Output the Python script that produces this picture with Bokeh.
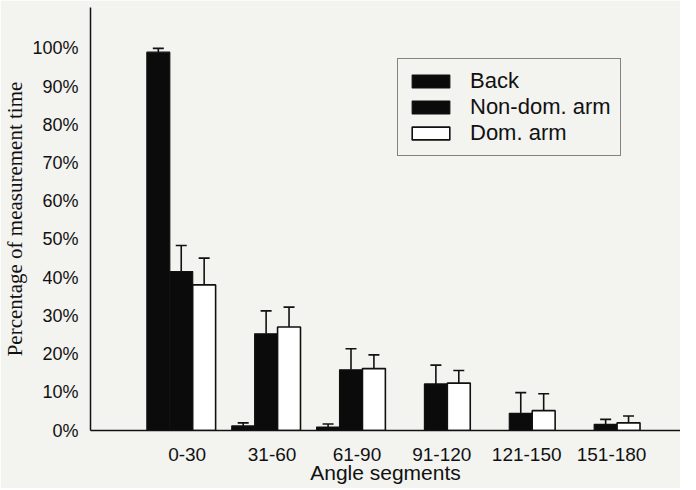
from bokeh.plotting import figure
from bokeh.models import (ColumnDataSource, Range1d, FixedTicker, Whisker, TeeHead,
                          Legend, LegendItem)
from bokeh.transform import dodge
from bokeh.embed import file_html
from bokeh.resources import INLINE

# ---- data ----
categories = ["0-30", "31-60", "61-90", "91-120", "121-150", "151-180"]
back = [99.0, 1.2, 0.9, 0.0, 0.0, 0.0]
back_err = [1.0, 0.8, 0.8, 0.0, 0.0, 0.0]
nondom = [41.6, 25.3, 15.9, 12.2, 4.5, 1.6]
nondom_err = [6.8, 6.0, 5.5, 4.9, 5.4, 1.3]
dom = [38.1, 27.1, 16.2, 12.4, 5.2, 2.0]
dom_err = [7.0, 5.2, 3.6, 3.3, 4.4, 1.8]
y_ticks = [0, 10, 20, 30, 40, 50, 60, 70, 80, 90, 100]
series_names = ["Back", "Non-dom. arm", "Dom. arm"]

BG = "#f3f3f0"
INK = "#111111"
SANS = "Liberation Sans"
SERIF = "Liberation Serif"

idx = list(range(len(categories)))
src = ColumnDataSource(dict(
    x=idx, back=back, nondom=nondom, dom=dom,
    back_hi=[v + e for v, e in zip(back, back_err)],
    nondom_hi=[v + e for v, e in zip(nondom, nondom_err)],
    dom_hi=[v + e for v, e in zip(dom, dom_err)],
))
# whiskers only where the bar exists
bk = [i for i in idx if back[i] > 0]
back_w = ColumnDataSource(dict(x=bk, lo=[back[i] for i in bk],
                               hi=[back[i] + back_err[i] for i in bk]))

p = figure(width=680, height=488, output_backend="svg", toolbar_location=None,
           x_range=Range1d(-1.069, 5.882), y_range=Range1d(0, 110.7),
           min_border_left=85, min_border_right=0, min_border_top=7,
           min_border_bottom=58)
p.background_fill_color = BG
p.border_fill_color = BG
p.outline_line_color = None
p.grid.visible = False

W = 0.27
r_back = p.vbar(x=dodge("x", -W, range=p.x_range), top="back", width=W, source=src,
                fill_color="#0b0b0b", line_color=INK, line_width=1.2)
r_nd = p.vbar(x=dodge("x", 0, range=p.x_range), top="nondom", width=W, source=src,
              fill_color="#0b0b0b", line_color=INK, line_width=1.2)
r_dom = p.vbar(x=dodge("x", W, range=p.x_range), top="dom", width=W, source=src,
               fill_color="#ffffff", line_color=INK, line_width=1.6)

def whisk(source, xoff, lo, hi):
    w = Whisker(base=dodge("x", xoff, range=p.x_range), lower=lo, upper=hi,
                source=source, dimension="height", line_color=INK, line_width=1.6,
                upper_head=TeeHead(size=11, line_color=INK, line_width=1.6),
                lower_head=None)
    p.add_layout(w)

whisk(back_w, -W, "lo", "hi")
whisk(src, 0, "nondom", "nondom_hi")
whisk(src, W, "dom", "dom_hi")

# axes (category labels sit slightly right of the middle bar, as in the original)
LABEL_SHIFT = 0.07
xt = [i + LABEL_SHIFT for i in idx]
p.xaxis.ticker = FixedTicker(ticks=xt)
p.xaxis.major_label_overrides = {t: c for t, c in zip(xt, categories)}
p.yaxis.ticker = FixedTicker(ticks=y_ticks)
p.yaxis.major_label_overrides = {t: f"{t}%" for t in y_ticks}
for ax in (p.xaxis, p.yaxis):
    ax.major_tick_line_color = None
    ax.minor_tick_line_color = None
    ax.major_tick_out = 0
    ax.major_tick_in = 0
    ax.minor_tick_out = 0
    ax.minor_tick_in = 0
    ax.axis_line_color = INK
    ax.axis_line_width = 1.5
    ax.major_label_text_font = SANS
    ax.major_label_text_color = INK
p.yaxis.major_label_text_font_size = "18px"
p.yaxis.major_label_standoff = 12
p.xaxis.major_label_text_font_size = "19px"
p.xaxis.major_label_standoff = 17

p.xaxis.axis_label = "Angle segments"
p.xaxis.axis_label_text_font = SANS
p.xaxis.axis_label_text_font_style = "normal"
p.xaxis.axis_label_text_font_size = "21px"
p.xaxis.axis_label_text_color = INK
p.xaxis.axis_label_standoff = -3

p.yaxis.axis_label = "Percentage of measurement time"
p.yaxis.axis_label_text_font = SERIF
p.yaxis.axis_label_text_font_style = "normal"
p.yaxis.axis_label_text_font_size = "21px"
p.yaxis.axis_label_text_color = INK
p.yaxis.axis_label_standoff = 2

legend = Legend(items=[LegendItem(label=series_names[0], renderers=[r_back]),
                       LegendItem(label=series_names[1], renderers=[r_nd]),
                       LegendItem(label=series_names[2], renderers=[r_dom])],
                location=(307, 274))
legend.glyph_width = 47
legend.glyph_height = 16
legend.label_text_font = SANS
legend.label_text_font_size = "22px"
legend.label_text_color = INK
legend.label_height = 19
legend.label_standoff = 16
legend.spacing = 0
legend.padding = 9
legend.margin = 0
legend.border_line_color = INK
legend.border_line_width = 1.2
legend.background_fill_color = BG
legend.background_fill_alpha = 1.0
p.add_layout(legend, "center")

open("out.html", "w").write(file_html(p, INLINE))
